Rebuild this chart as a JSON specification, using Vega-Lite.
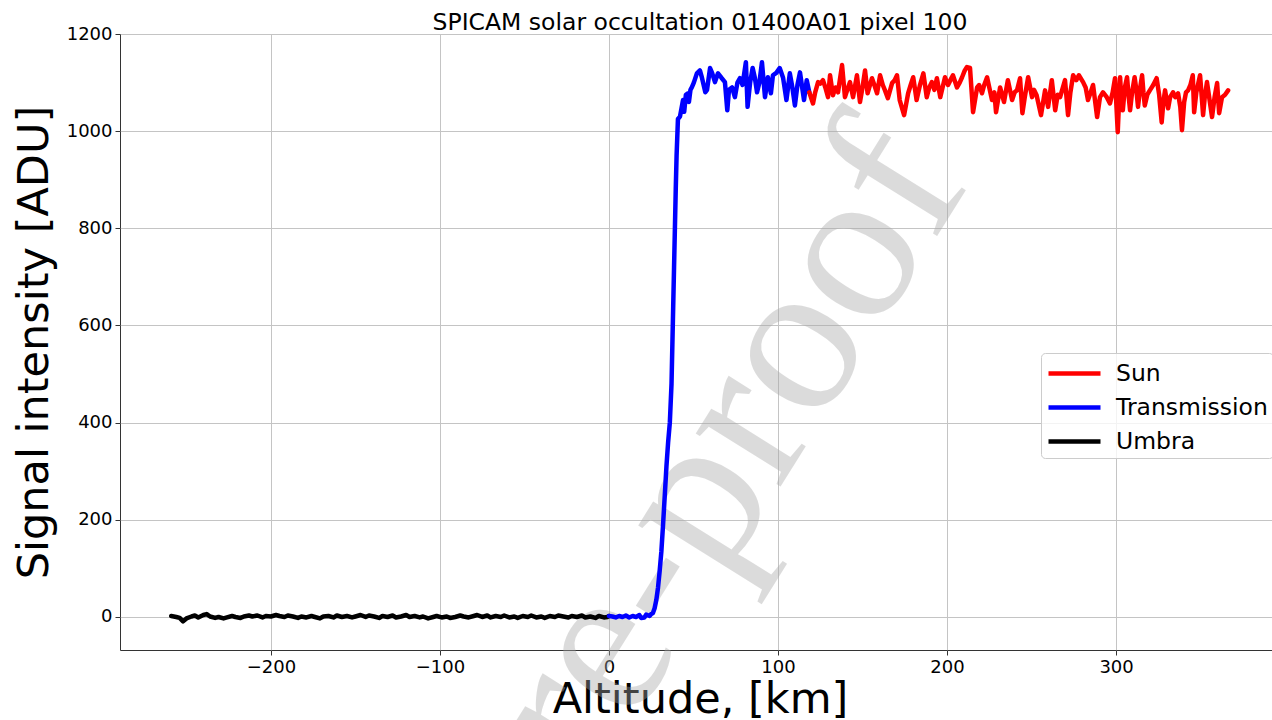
{
  "$schema": "https://vega.github.io/schema/vega-lite/v6.json",
  "width": 1160,
  "height": 616,
  "autosize": {"type": "none"},
  "padding": {"left": 120, "top": 34, "right": 0, "bottom": 70},
  "background": "white",
  "config": {
    "font": "DejaVu Sans",
    "view": {"stroke": "#333333", "strokeWidth": 1},
    "axis": {
      "grid": true, "gridColor": "#c4c4c4", "gridWidth": 1,
      "domain": false, "tickColor": "#333333", "tickSize": 5, "tickWidth": 1,
      "labelFont": "DejaVu Sans", "labelFontSize": 18, "labelColor": "black", "labelPadding": 3,
      "titleFont": "DejaVu Sans", "titleFontSize": 43, "titleFontWeight": "normal", "titleColor": "black"
    }
  },
  "title": {"text": "SPICAM solar occultation 01400A01 pixel 100", "font": "DejaVu Sans", "fontSize": 23.5, "fontWeight": "normal", "color": "black", "offset": -9},
  "datasets": {
    "wm": [{"a": 214, "s": 895, "t": "Journal Pre-proof"}],
    "sig": [
      {"a": -259, "s": 2, "k": "Umbra"}, {"a": -256, "s": 0, "k": "Umbra"}, {"a": -254, "s": -2, "k": "Umbra"}, {"a": -252, "s": -9, "k": "Umbra"}, {"a": -250, "s": -3, "k": "Umbra"}, {"a": -247, "s": 1, "k": "Umbra"}, {"a": -245, "s": 3, "k": "Umbra"}, {"a": -243, "s": -1, "k": "Umbra"}, {"a": -240, "s": 4, "k": "Umbra"}, {"a": -238, "s": 6, "k": "Umbra"}, {"a": -236, "s": 1, "k": "Umbra"}, {"a": -233, "s": -2, "k": "Umbra"}, {"a": -231, "s": 0, "k": "Umbra"}, {"a": -228, "s": -3, "k": "Umbra"}, {"a": -226, "s": -1, "k": "Umbra"}, {"a": -223, "s": 2, "k": "Umbra"}, {"a": -221, "s": 0, "k": "Umbra"}, {"a": -218, "s": -2, "k": "Umbra"}, {"a": -216, "s": 1, "k": "Umbra"}, {"a": -213, "s": 3, "k": "Umbra"}, {"a": -211, "s": 1, "k": "Umbra"}, {"a": -208, "s": 3, "k": "Umbra"}, {"a": -205, "s": -1, "k": "Umbra"}, {"a": -203, "s": 2, "k": "Umbra"}, {"a": -200, "s": 1, "k": "Umbra"}, {"a": -197, "s": 4, "k": "Umbra"}, {"a": -195, "s": 2, "k": "Umbra"}, {"a": -192, "s": 0, "k": "Umbra"}, {"a": -190, "s": 3, "k": "Umbra"}, {"a": -187, "s": 1, "k": "Umbra"}, {"a": -184, "s": -2, "k": "Umbra"}, {"a": -182, "s": 1, "k": "Umbra"}, {"a": -179, "s": -1, "k": "Umbra"}, {"a": -176, "s": 2, "k": "Umbra"}, {"a": -174, "s": 0, "k": "Umbra"}, {"a": -171, "s": -3, "k": "Umbra"}, {"a": -169, "s": 1, "k": "Umbra"}, {"a": -166, "s": 2, "k": "Umbra"}, {"a": -163, "s": -1, "k": "Umbra"}, {"a": -161, "s": 3, "k": "Umbra"}, {"a": -158, "s": 0, "k": "Umbra"}, {"a": -155, "s": 2, "k": "Umbra"}, {"a": -152, "s": -1, "k": "Umbra"}, {"a": -150, "s": 1, "k": "Umbra"}, {"a": -147, "s": 4, "k": "Umbra"}, {"a": -144, "s": 0, "k": "Umbra"}, {"a": -142, "s": 3, "k": "Umbra"}, {"a": -139, "s": 1, "k": "Umbra"}, {"a": -136, "s": -2, "k": "Umbra"}, {"a": -134, "s": 2, "k": "Umbra"}, {"a": -131, "s": 0, "k": "Umbra"}, {"a": -128, "s": 3, "k": "Umbra"}, {"a": -126, "s": -1, "k": "Umbra"}, {"a": -123, "s": 1, "k": "Umbra"}, {"a": -120, "s": 4, "k": "Umbra"}, {"a": -118, "s": 0, "k": "Umbra"}, {"a": -115, "s": 2, "k": "Umbra"}, {"a": -112, "s": -1, "k": "Umbra"}, {"a": -110, "s": 1, "k": "Umbra"}, {"a": -107, "s": -3, "k": "Umbra"}, {"a": -104, "s": 0, "k": "Umbra"}, {"a": -102, "s": 2, "k": "Umbra"}, {"a": -99, "s": -1, "k": "Umbra"}, {"a": -96, "s": 1, "k": "Umbra"}, {"a": -94, "s": -2, "k": "Umbra"}, {"a": -91, "s": 0, "k": "Umbra"}, {"a": -88, "s": 3, "k": "Umbra"}, {"a": -86, "s": 1, "k": "Umbra"}, {"a": -83, "s": -1, "k": "Umbra"}, {"a": -80, "s": 2, "k": "Umbra"}, {"a": -78, "s": 4, "k": "Umbra"}, {"a": -75, "s": 0, "k": "Umbra"}, {"a": -72, "s": 3, "k": "Umbra"}, {"a": -70, "s": -1, "k": "Umbra"}, {"a": -67, "s": 2, "k": "Umbra"}, {"a": -64, "s": 0, "k": "Umbra"}, {"a": -62, "s": 3, "k": "Umbra"}, {"a": -59, "s": -1, "k": "Umbra"}, {"a": -56, "s": 1, "k": "Umbra"}, {"a": -54, "s": -2, "k": "Umbra"}, {"a": -51, "s": 2, "k": "Umbra"}, {"a": -48, "s": 0, "k": "Umbra"}, {"a": -46, "s": 3, "k": "Umbra"}, {"a": -43, "s": -1, "k": "Umbra"}, {"a": -40, "s": 1, "k": "Umbra"}, {"a": -38, "s": -2, "k": "Umbra"}, {"a": -35, "s": 2, "k": "Umbra"}, {"a": -32, "s": 0, "k": "Umbra"}, {"a": -30, "s": 3, "k": "Umbra"}, {"a": -27, "s": 1, "k": "Umbra"}, {"a": -24, "s": -1, "k": "Umbra"}, {"a": -22, "s": 2, "k": "Umbra"}, {"a": -19, "s": 0, "k": "Umbra"}, {"a": -16, "s": 3, "k": "Umbra"}, {"a": -14, "s": -1, "k": "Umbra"}, {"a": -11, "s": 1, "k": "Umbra"}, {"a": -8, "s": -2, "k": "Umbra"}, {"a": -6, "s": 2, "k": "Umbra"}, {"a": -3, "s": -1, "k": "Umbra"}, {"a": -1, "s": 0, "k": "Umbra"}, {"a": 0, "s": 2, "k": "Umbra"},
      {"a": 0, "s": 2, "k": "Transmission"}, {"a": 2, "s": 1, "k": "Transmission"}, {"a": 4, "s": -1, "k": "Transmission"}, {"a": 6, "s": 2, "k": "Transmission"}, {"a": 8, "s": 0, "k": "Transmission"}, {"a": 10, "s": 3, "k": "Transmission"}, {"a": 12, "s": -1, "k": "Transmission"}, {"a": 14, "s": 2, "k": "Transmission"}, {"a": 16, "s": 0, "k": "Transmission"}, {"a": 18, "s": 4, "k": "Transmission"}, {"a": 19, "s": -2, "k": "Transmission"}, {"a": 21, "s": -1, "k": "Transmission"}, {"a": 22, "s": 5, "k": "Transmission"}, {"a": 24, "s": 2, "k": "Transmission"}, {"a": 25, "s": 6, "k": "Transmission"}, {"a": 26, "s": 8, "k": "Transmission"}, {"a": 27, "s": 18, "k": "Transmission"}, {"a": 28, "s": 35, "k": "Transmission"}, {"a": 29, "s": 60, "k": "Transmission"}, {"a": 30, "s": 95, "k": "Transmission"}, {"a": 31, "s": 135, "k": "Transmission"}, {"a": 32, "s": 190, "k": "Transmission"}, {"a": 33, "s": 250, "k": "Transmission"}, {"a": 34, "s": 310, "k": "Transmission"}, {"a": 35, "s": 360, "k": "Transmission"}, {"a": 36, "s": 400, "k": "Transmission"}, {"a": 37, "s": 480, "k": "Transmission"}, {"a": 37.5, "s": 560, "k": "Transmission"}, {"a": 38, "s": 640, "k": "Transmission"}, {"a": 38.5, "s": 720, "k": "Transmission"}, {"a": 39, "s": 800, "k": "Transmission"}, {"a": 39.5, "s": 880, "k": "Transmission"}, {"a": 40, "s": 950, "k": "Transmission"}, {"a": 40.8, "s": 1025, "k": "Transmission"}, {"a": 42, "s": 1030, "k": "Transmission"}, {"a": 43.8, "s": 1064, "k": "Transmission"}, {"a": 44.5, "s": 1040, "k": "Transmission"}, {"a": 45.5, "s": 1075, "k": "Transmission"}, {"a": 46.7, "s": 1078, "k": "Transmission"}, {"a": 47.3, "s": 1060, "k": "Transmission"}, {"a": 48.2, "s": 1085, "k": "Transmission"}, {"a": 49, "s": 1090, "k": "Transmission"}, {"a": 50.2, "s": 1100, "k": "Transmission"}, {"a": 52, "s": 1119, "k": "Transmission"}, {"a": 53.8, "s": 1125, "k": "Transmission"}, {"a": 55, "s": 1110, "k": "Transmission"}, {"a": 57, "s": 1080, "k": "Transmission"}, {"a": 58, "s": 1085, "k": "Transmission"}, {"a": 59.8, "s": 1130, "k": "Transmission"}, {"a": 61, "s": 1120, "k": "Transmission"}, {"a": 62.7, "s": 1101, "k": "Transmission"}, {"a": 64.5, "s": 1119, "k": "Transmission"}, {"a": 66.5, "s": 1110, "k": "Transmission"}, {"a": 68.6, "s": 1101, "k": "Transmission"}, {"a": 70, "s": 1043, "k": "Transmission"}, {"a": 71, "s": 1085, "k": "Transmission"}, {"a": 72.8, "s": 1090, "k": "Transmission"}, {"a": 74.5, "s": 1070, "k": "Transmission"}, {"a": 76, "s": 1100, "k": "Transmission"}, {"a": 77.5, "s": 1109, "k": "Transmission"}, {"a": 79, "s": 1095, "k": "Transmission"}, {"a": 81, "s": 1142, "k": "Transmission"}, {"a": 82, "s": 1050, "k": "Transmission"}, {"a": 83.5, "s": 1100, "k": "Transmission"}, {"a": 85, "s": 1130, "k": "Transmission"}, {"a": 86.3, "s": 1110, "k": "Transmission"}, {"a": 87.6, "s": 1080, "k": "Transmission"}, {"a": 89, "s": 1100, "k": "Transmission"}, {"a": 90.5, "s": 1142, "k": "Transmission"}, {"a": 92.3, "s": 1070, "k": "Transmission"}, {"a": 94, "s": 1111, "k": "Transmission"}, {"a": 95.8, "s": 1078, "k": "Transmission"}, {"a": 97, "s": 1115, "k": "Transmission"}, {"a": 99, "s": 1120, "k": "Transmission"}, {"a": 101, "s": 1130, "k": "Transmission"}, {"a": 103, "s": 1110, "k": "Transmission"}, {"a": 105, "s": 1064, "k": "Transmission"}, {"a": 107, "s": 1119, "k": "Transmission"}, {"a": 108.5, "s": 1090, "k": "Transmission"}, {"a": 110, "s": 1053, "k": "Transmission"}, {"a": 111.5, "s": 1095, "k": "Transmission"}, {"a": 113, "s": 1121, "k": "Transmission"}, {"a": 115.4, "s": 1064, "k": "Transmission"}, {"a": 117, "s": 1105, "k": "Transmission"}, {"a": 118.5, "s": 1080, "k": "Transmission"},
      {"a": 118.5, "s": 1080, "k": "Sun"}, {"a": 120.7, "s": 1057, "k": "Sun"}, {"a": 122, "s": 1080, "k": "Sun"}, {"a": 123.7, "s": 1101, "k": "Sun"}, {"a": 125, "s": 1098, "k": "Sun"}, {"a": 126.6, "s": 1105, "k": "Sun"}, {"a": 128, "s": 1090, "k": "Sun"}, {"a": 129.6, "s": 1070, "k": "Sun"}, {"a": 130.8, "s": 1115, "k": "Sun"}, {"a": 132.5, "s": 1074, "k": "Sun"}, {"a": 134, "s": 1090, "k": "Sun"}, {"a": 135.5, "s": 1080, "k": "Sun"}, {"a": 137.9, "s": 1136, "k": "Sun"}, {"a": 139.6, "s": 1070, "k": "Sun"}, {"a": 141, "s": 1085, "k": "Sun"}, {"a": 142.6, "s": 1101, "k": "Sun"}, {"a": 144.4, "s": 1070, "k": "Sun"}, {"a": 146.7, "s": 1115, "k": "Sun"}, {"a": 148.5, "s": 1060, "k": "Sun"}, {"a": 150, "s": 1090, "k": "Sun"}, {"a": 151.5, "s": 1125, "k": "Sun"}, {"a": 153, "s": 1078, "k": "Sun"}, {"a": 155.6, "s": 1109, "k": "Sun"}, {"a": 157, "s": 1095, "k": "Sun"}, {"a": 158.6, "s": 1078, "k": "Sun"}, {"a": 160.4, "s": 1115, "k": "Sun"}, {"a": 162, "s": 1095, "k": "Sun"}, {"a": 163.3, "s": 1084, "k": "Sun"}, {"a": 165, "s": 1068, "k": "Sun"}, {"a": 167.5, "s": 1099, "k": "Sun"}, {"a": 169, "s": 1105, "k": "Sun"}, {"a": 170.4, "s": 1115, "k": "Sun"}, {"a": 172, "s": 1064, "k": "Sun"}, {"a": 174.6, "s": 1033, "k": "Sun"}, {"a": 177, "s": 1078, "k": "Sun"}, {"a": 178.5, "s": 1095, "k": "Sun"}, {"a": 180, "s": 1111, "k": "Sun"}, {"a": 182, "s": 1064, "k": "Sun"}, {"a": 184, "s": 1095, "k": "Sun"}, {"a": 186, "s": 1119, "k": "Sun"}, {"a": 188, "s": 1070, "k": "Sun"}, {"a": 189.5, "s": 1090, "k": "Sun"}, {"a": 191, "s": 1101, "k": "Sun"}, {"a": 192.5, "s": 1085, "k": "Sun"}, {"a": 194, "s": 1109, "k": "Sun"}, {"a": 196, "s": 1070, "k": "Sun"}, {"a": 198.8, "s": 1111, "k": "Sun"}, {"a": 200.6, "s": 1095, "k": "Sun"}, {"a": 202, "s": 1105, "k": "Sun"}, {"a": 203.5, "s": 1115, "k": "Sun"}, {"a": 205.9, "s": 1090, "k": "Sun"}, {"a": 207.5, "s": 1100, "k": "Sun"}, {"a": 208.9, "s": 1111, "k": "Sun"}, {"a": 210.5, "s": 1125, "k": "Sun"}, {"a": 211.8, "s": 1132, "k": "Sun"}, {"a": 213.6, "s": 1130, "k": "Sun"}, {"a": 215.4, "s": 1039, "k": "Sun"}, {"a": 217.8, "s": 1090, "k": "Sun"}, {"a": 219, "s": 1095, "k": "Sun"}, {"a": 220.7, "s": 1078, "k": "Sun"}, {"a": 222, "s": 1095, "k": "Sun"}, {"a": 223.7, "s": 1111, "k": "Sun"}, {"a": 225, "s": 1090, "k": "Sun"}, {"a": 226.6, "s": 1064, "k": "Sun"}, {"a": 228, "s": 1080, "k": "Sun"}, {"a": 229, "s": 1039, "k": "Sun"}, {"a": 231.4, "s": 1090, "k": "Sun"}, {"a": 233.7, "s": 1060, "k": "Sun"}, {"a": 236, "s": 1105, "k": "Sun"}, {"a": 238.5, "s": 1064, "k": "Sun"}, {"a": 240, "s": 1080, "k": "Sun"}, {"a": 241.4, "s": 1084, "k": "Sun"}, {"a": 243.2, "s": 1109, "k": "Sun"}, {"a": 244.6, "s": 1037, "k": "Sun"}, {"a": 246, "s": 1070, "k": "Sun"}, {"a": 248, "s": 1111, "k": "Sun"}, {"a": 250.3, "s": 1070, "k": "Sun"}, {"a": 251.5, "s": 1085, "k": "Sun"}, {"a": 253, "s": 1074, "k": "Sun"}, {"a": 255.6, "s": 1033, "k": "Sun"}, {"a": 258, "s": 1084, "k": "Sun"}, {"a": 259.8, "s": 1050, "k": "Sun"}, {"a": 262, "s": 1105, "k": "Sun"}, {"a": 264, "s": 1043, "k": "Sun"}, {"a": 265.5, "s": 1075, "k": "Sun"}, {"a": 266.9, "s": 1070, "k": "Sun"}, {"a": 269.8, "s": 1105, "k": "Sun"}, {"a": 271.6, "s": 1033, "k": "Sun"}, {"a": 273, "s": 1080, "k": "Sun"}, {"a": 274.6, "s": 1115, "k": "Sun"}, {"a": 276.5, "s": 1105, "k": "Sun"}, {"a": 278, "s": 1115, "k": "Sun"}, {"a": 280.5, "s": 1101, "k": "Sun"}, {"a": 282, "s": 1090, "k": "Sun"}, {"a": 283.4, "s": 1064, "k": "Sun"}, {"a": 285, "s": 1080, "k": "Sun"}, {"a": 286.4, "s": 1095, "k": "Sun"}, {"a": 288.8, "s": 1029, "k": "Sun"}, {"a": 290.5, "s": 1070, "k": "Sun"}, {"a": 292.3, "s": 1080, "k": "Sun"}, {"a": 294.5, "s": 1070, "k": "Sun"}, {"a": 296.4, "s": 1057, "k": "Sun"}, {"a": 298, "s": 1080, "k": "Sun"}, {"a": 299.4, "s": 1109, "k": "Sun"}, {"a": 301, "s": 998, "k": "Sun"}, {"a": 302.4, "s": 1111, "k": "Sun"}, {"a": 303.2, "s": 1060, "k": "Sun"}, {"a": 304, "s": 1043, "k": "Sun"}, {"a": 305.2, "s": 1090, "k": "Sun"}, {"a": 306.5, "s": 1111, "k": "Sun"}, {"a": 307.5, "s": 1070, "k": "Sun"}, {"a": 308.3, "s": 1043, "k": "Sun"}, {"a": 309.5, "s": 1080, "k": "Sun"}, {"a": 311, "s": 1111, "k": "Sun"}, {"a": 312, "s": 1085, "k": "Sun"}, {"a": 313, "s": 1050, "k": "Sun"}, {"a": 314.3, "s": 1090, "k": "Sun"}, {"a": 315.4, "s": 1115, "k": "Sun"}, {"a": 316.2, "s": 1080, "k": "Sun"}, {"a": 317, "s": 1053, "k": "Sun"}, {"a": 318.5, "s": 1075, "k": "Sun"}, {"a": 320, "s": 1084, "k": "Sun"}, {"a": 322, "s": 1095, "k": "Sun"}, {"a": 324, "s": 1109, "k": "Sun"}, {"a": 325.5, "s": 1075, "k": "Sun"}, {"a": 327, "s": 1018, "k": "Sun"}, {"a": 328, "s": 1060, "k": "Sun"}, {"a": 329, "s": 1084, "k": "Sun"}, {"a": 330.8, "s": 1047, "k": "Sun"}, {"a": 332, "s": 1070, "k": "Sun"}, {"a": 333.7, "s": 1080, "k": "Sun"}, {"a": 335, "s": 1070, "k": "Sun"}, {"a": 336.7, "s": 1078, "k": "Sun"}, {"a": 338, "s": 1050, "k": "Sun"}, {"a": 339, "s": 1002, "k": "Sun"}, {"a": 340.3, "s": 1060, "k": "Sun"}, {"a": 341.4, "s": 1080, "k": "Sun"}, {"a": 342.6, "s": 1084, "k": "Sun"}, {"a": 344, "s": 1095, "k": "Sun"}, {"a": 345.4, "s": 1115, "k": "Sun"}, {"a": 346.2, "s": 1039, "k": "Sun"}, {"a": 347.5, "s": 1080, "k": "Sun"}, {"a": 349.7, "s": 1115, "k": "Sun"}, {"a": 350.5, "s": 1080, "k": "Sun"}, {"a": 351.5, "s": 1033, "k": "Sun"}, {"a": 352.5, "s": 1070, "k": "Sun"}, {"a": 353.8, "s": 1101, "k": "Sun"}, {"a": 355.3, "s": 1065, "k": "Sun"}, {"a": 356.8, "s": 1029, "k": "Sun"}, {"a": 358.3, "s": 1070, "k": "Sun"}, {"a": 359.8, "s": 1099, "k": "Sun"}, {"a": 361, "s": 1037, "k": "Sun"}, {"a": 362.7, "s": 1070, "k": "Sun"}, {"a": 364.5, "s": 1075, "k": "Sun"}, {"a": 366.3, "s": 1084, "k": "Sun"}
    ]
  },
  "layer": [
    {
      "data": {"name": "wm"},
      "mark": {"type": "text", "font": "Liberation Serif", "fontSize": 218, "color": "#a8a8a8", "opacity": 0.4, "angle": -58, "align": "right", "baseline": "alphabetic"},
      "encoding": {
        "x": {"field": "a", "type": "quantitative", "scale": {"domain": [-289.3, 397], "nice": false, "zero": false}},
        "y": {"field": "s", "type": "quantitative", "scale": {"domain": [-68, 1200], "nice": false, "zero": false}},
        "text": {"field": "t"}
      }
    },
    {
      "data": {"name": "sig"},
      "mark": {"type": "line", "strokeWidth": 4.5, "strokeJoin": "round", "strokeCap": "round"},
      "encoding": {
        "x": {"field": "a", "type": "quantitative", "title": "Altitude, [km]",
          "scale": {"domain": [-289.3, 397], "nice": false, "zero": false},
          "axis": {"values": [-200, -100, 0, 100, 200, 300], "format": "d", "titlePadding": 2}},
        "y": {"field": "s", "type": "quantitative", "title": "Signal intensity [ADU]",
          "scale": {"domain": [-68, 1200], "nice": false, "zero": false},
          "axis": {"values": [0, 200, 400, 600, 800, 1000, 1200], "format": "d", "titlePadding": 10}},
        "color": {"field": "k", "type": "nominal", "title": null,
          "scale": {"domain": ["Sun", "Transmission", "Umbra"], "range": ["#ff0000", "#0000ff", "#000000"]},
          "legend": {"orient": "none", "legendX": 921, "legendY": 319, "symbolType": "M-1,0H3", "symbolSize": 676, "symbolStrokeWidth": 4.5,
            "labelFont": "DejaVu Sans", "labelFontSize": 23.5, "labelColor": "black", "labelOffset": 39,
            "strokeColor": "#cccccc", "fillColor": "rgba(255,255,255,0.8)", "cornerRadius": 4, "padding": 5, "rowPadding": 7}}
      }
    }
  ]
}
